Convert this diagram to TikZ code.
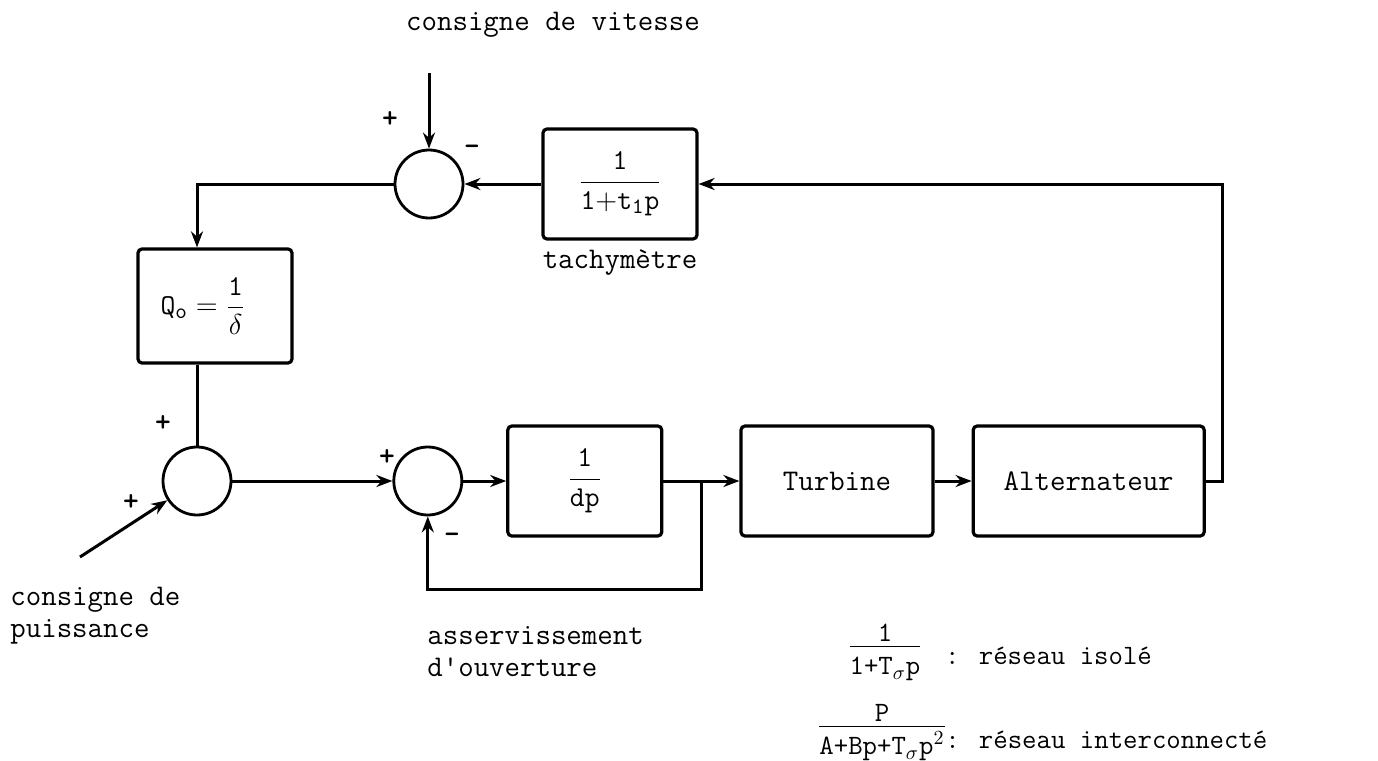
\documentclass[tikz,border=0pt]{standalone}
\usepackage{amsmath}
\usetikzlibrary{arrows.meta, positioning, calc}

\newcommand{\tplus}{\mathord{+}}
\newcommand{\typefrac}[2]{\begin{tabular}{@{}c@{}}#1\\[-2pt]\hline\rule{0pt}{14pt}#2\end{tabular}}

\begin{document}
\begin{tikzpicture}[x=0.5pt, y=-0.5pt,
  font=\fontsize{15}{16}\selectfont\ttfamily,
  box/.style={rectangle, draw, line width=1.6pt, rounded corners=2pt,
              minimum width=77pt, minimum height=55pt, inner sep=2pt},
  sum/.style={circle, draw, line width=1.4pt, minimum size=34pt, inner sep=0pt},
  arrow/.style={-{Stealth[length=8pt, width=6pt]}, line width=1.5pt},
  wire/.style={line width=1.5pt},
  sign/.style={font=\fontsize{15}{16}\selectfont\bfseries\ttfamily},
  lbl/.style={align=left, inner sep=0pt},
  small/.style={font=\fontsize{14}{15}\selectfont\ttfamily, inner sep=1pt},
]

\useasboundingbox (0,0) rectangle (1378,761);

% ---- boucle de vitesse ----
\node (cvit) at (553,25) {consigne de vitesse};
\coordinate (vIn) at (429,73);
\node[sum] (sumV) at (429,184) {};
\node[box, right=38.5pt of sumV] (tachy) {$\dfrac{\mathtt{1}}{\mathtt{1\tplus t_{1}p}}$};
\node[below=1pt of tachy] (tachyLbl) {tachymètre};

% ---- chaine directe ----
\node[sum] (sumP) at (197,481) {};
\node[box, above=40.5pt of sumP, xshift=9pt, minimum height=57pt] (qbox)
  {$\mathtt{Q_{o}} = \dfrac{\mathtt{1}}{\delta}$\hspace*{12pt}};
\node[sum, right=80pt of sumP] (sumA) {};
\node[box, right=21.5pt of sumA] (dp) {$\dfrac{\mathtt{1}}{\mathtt{dp}}$};
\node[box, right=38pt of dp, minimum width=96pt] (turb) {Turbine};
\node[box, right=18.5pt of turb, minimum width=115.5pt] (alt) {Alternateur};

\node[lbl, anchor=west] (cpuis) at (10,616) {consigne de\\puissance};
\coordinate (pIn) at (80,557);
\node[lbl, anchor=west] (asserv) at (427,652) {asservissement\\d\textquotesingle ouverture};

% ---- signes ----
\node[sign] (sV1) at (390,120) {+};
\node[sign] (sV2) at (472,150) {-};
\node[sign] (sP1) at (163,423) {+};
\node[sign] (sP2) at (131,502) {+};
\node[sign] (sA1) at (387,457) {+};
\node[sign] (sA2) at (452,538) {-};

% ---- fonctions de transfert de l'alternateur ----
\node[small] (frIso) at (885,652) {\typefrac{1}{1+T$_{\sigma}$p}};
\node[small, right=10pt of frIso, yshift=-2pt] (iso) {: réseau isolé};
\node[small] (frInt) at (882,732) {\typefrac{P}{A+Bp+T$_{\sigma}$p$^{2}$}};
\node[small, right=-2pt of frInt, yshift=-4pt] (inter) {: réseau interconnecté};

% ---- liaisons ----
\coordinate (cR) at (1222,184);
\coordinate (tap) at ($(dp.east)!0.5!(turb.west)$);
\coordinate (fbk) at ($(tap)+(0,108)$);

\draw[arrow] (vIn) -- (sumV);
\draw[arrow] (tachy) -- (sumV);
\draw[arrow] (sumV.west) -| (sumP.north |- qbox.north);
\draw[wire] (sumP.north |- qbox.south) -- (sumP.north);
\draw[arrow] (pIn) -- (sumP);
\draw[arrow] (sumP) -- (sumA);
\draw[arrow] (sumA) -- (dp);
\draw[arrow] (dp) -- (turb);
\draw[arrow] (turb) -- (alt);
\draw[arrow] (alt.east) -| (cR) -- (tachy.east);
\draw[arrow] (tap) -- (fbk) -| (sumA.south);

\end{tikzpicture}
\end{document}
